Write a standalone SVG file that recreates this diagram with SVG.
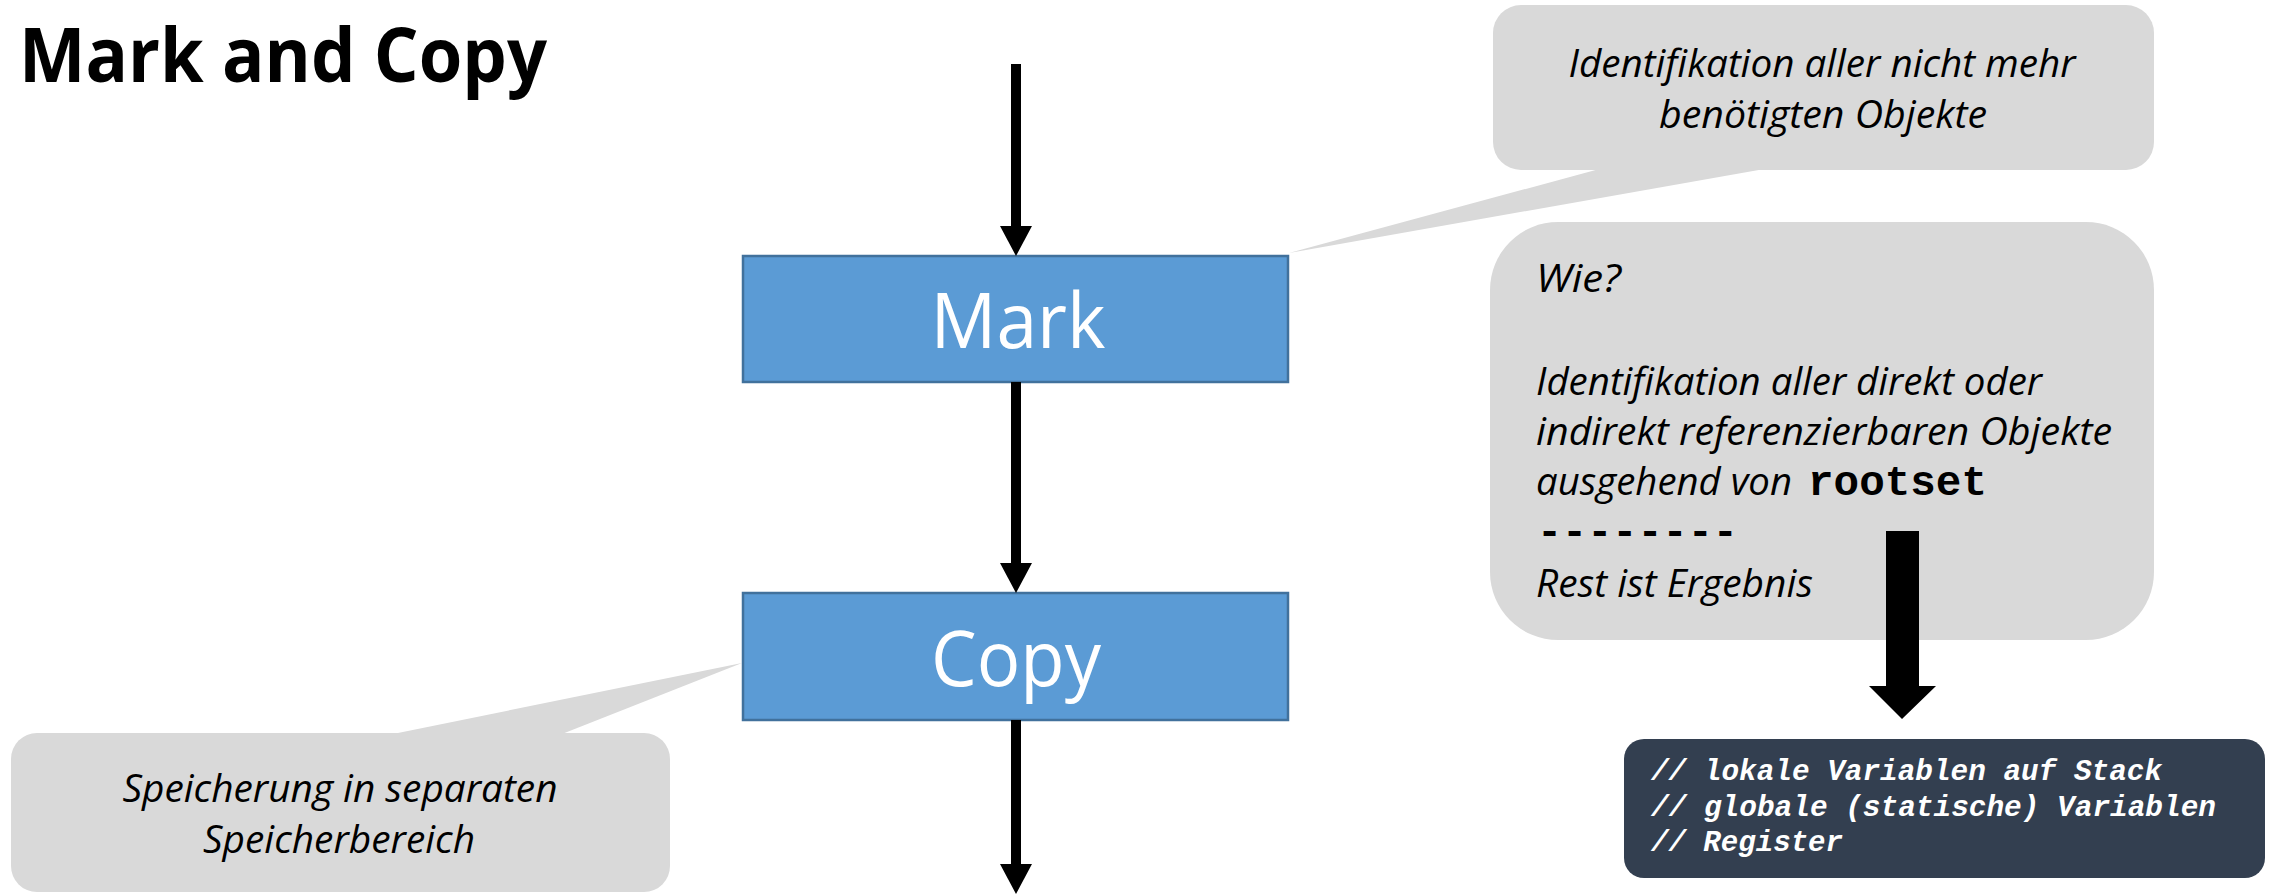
<svg xmlns="http://www.w3.org/2000/svg" width="2273" height="895" viewBox="0 0 2273 895">
  <style>
    .title { font-family: "Open Sans", "Liberation Sans", sans-serif; font-weight: 700; font-size: 75px; fill: #000; }
    .step { fill: #5b9bd5; stroke: #41719c; stroke-width: 2.5; }
    .steptext { font-family: "Open Sans", "Liberation Sans", sans-serif; font-size: 77px; fill: #fff; text-anchor: middle; }
    .callout { fill: #d9d9d9; }
    .ctext { font-family: "Open Sans", "Liberation Sans", sans-serif; font-style: italic; font-size: 38px; fill: #000; }
    .mid { text-anchor: middle; }
    .mono { font-family: "Liberation Mono", "Courier New", monospace; font-weight: 700; font-size: 42px; fill: #000; }
    .code { fill: #333f50; }
    .codetext { font-family: "Liberation Mono", "Courier New", monospace; font-weight: 700; font-style: italic; font-size: 29.4px; fill: #fff; }
    .conn { stroke: #000; stroke-width: 10; fill: none; }
  </style>
  <defs>
    <marker id="arrow" markerUnits="userSpaceOnUse" markerWidth="30" markerHeight="32" refX="0" refY="16" orient="auto">
      <path d="M0,0 L30,16 L0,32 z" fill="#000"/>
    </marker>
  </defs>

  <text class="title" x="19" y="82" textLength="528" lengthAdjust="spacingAndGlyphs">Mark and Copy</text>

  <g id="callout-identify">
    <path class="callout" d="M1603,168 L1289,253 L1770,168 z"/>
    <rect class="callout" x="1493" y="5" width="661" height="165" rx="28" ry="28"/>
    <text class="ctext mid" x="1822" y="77" textLength="507" lengthAdjust="spacingAndGlyphs">Identifikation aller nicht mehr</text>
    <text class="ctext mid" x="1823" y="128" textLength="328" lengthAdjust="spacingAndGlyphs">benötigten Objekte</text>
  </g>

  <g id="callout-how">
    <rect class="callout" x="1490" y="222" width="664" height="418" rx="68" ry="68"/>
    <text class="ctext" x="1536" y="292" textLength="85" lengthAdjust="spacingAndGlyphs">Wie?</text>
    <text class="ctext" x="1536" y="395" textLength="506" lengthAdjust="spacingAndGlyphs">Identifikation aller direkt oder</text>
    <text class="ctext" x="1536" y="445" textLength="576" lengthAdjust="spacingAndGlyphs">indirekt referenzierbaren Objekte</text>
    <text class="ctext" x="1536" y="495" textLength="256" lengthAdjust="spacingAndGlyphs">ausgehend von</text>
    <text class="mono" x="1808" y="495" textLength="179" lengthAdjust="spacingAndGlyphs">rootset</text>
    <text class="mono" x="1537" y="545" textLength="201" lengthAdjust="spacingAndGlyphs">--------</text>
    <text class="ctext" x="1536" y="597" textLength="277" lengthAdjust="spacingAndGlyphs">Rest ist Ergebnis</text>
  </g>

  <g id="callout-store">
    <path class="callout" d="M393,734 L742,663 L562,734 z"/>
    <rect class="callout" x="11" y="733" width="659" height="159" rx="26" ry="26"/>
    <text class="ctext mid" x="340" y="802" textLength="435" lengthAdjust="spacingAndGlyphs">Speicherung in separaten</text>
    <text class="ctext mid" x="339" y="853" textLength="272" lengthAdjust="spacingAndGlyphs">Speicherbereich</text>
  </g>

  <g id="node-mark">
    <rect class="step" x="743" y="256" width="545" height="126"/>
    <text class="steptext" x="1018" y="348" textLength="175" lengthAdjust="spacingAndGlyphs">Mark</text>
  </g>

  <g id="node-copy">
    <rect class="step" x="743" y="593" width="545" height="127"/>
    <text class="steptext" x="1016" y="686" textLength="170" lengthAdjust="spacingAndGlyphs">Copy</text>
  </g>

  <g id="rootset-box">
    <rect class="code" x="1624" y="739" width="641" height="139" rx="20" ry="20"/>
    <text class="codetext" x="1651" y="780" textLength="511" lengthAdjust="spacingAndGlyphs">// lokale Variablen auf Stack</text>
    <text class="codetext" x="1651" y="816" textLength="565" lengthAdjust="spacingAndGlyphs">// globale (statische) Variablen</text>
    <text class="codetext" x="1651" y="851" textLength="192" lengthAdjust="spacingAndGlyphs">// Register</text>
  </g>

  <g id="connectors">
    <line class="conn" x1="1016" y1="64" x2="1016" y2="226" marker-end="url(#arrow)"/>
    <line class="conn" x1="1016" y1="382" x2="1016" y2="563" marker-end="url(#arrow)"/>
    <line class="conn" x1="1016" y1="720" x2="1016" y2="864" marker-end="url(#arrow)"/>
    <path d="M1886,531 L1919,531 L1919,686 L1936,686 L1902,719 L1869,686 L1886,686 z" fill="#000"/>
  </g>
</svg>
